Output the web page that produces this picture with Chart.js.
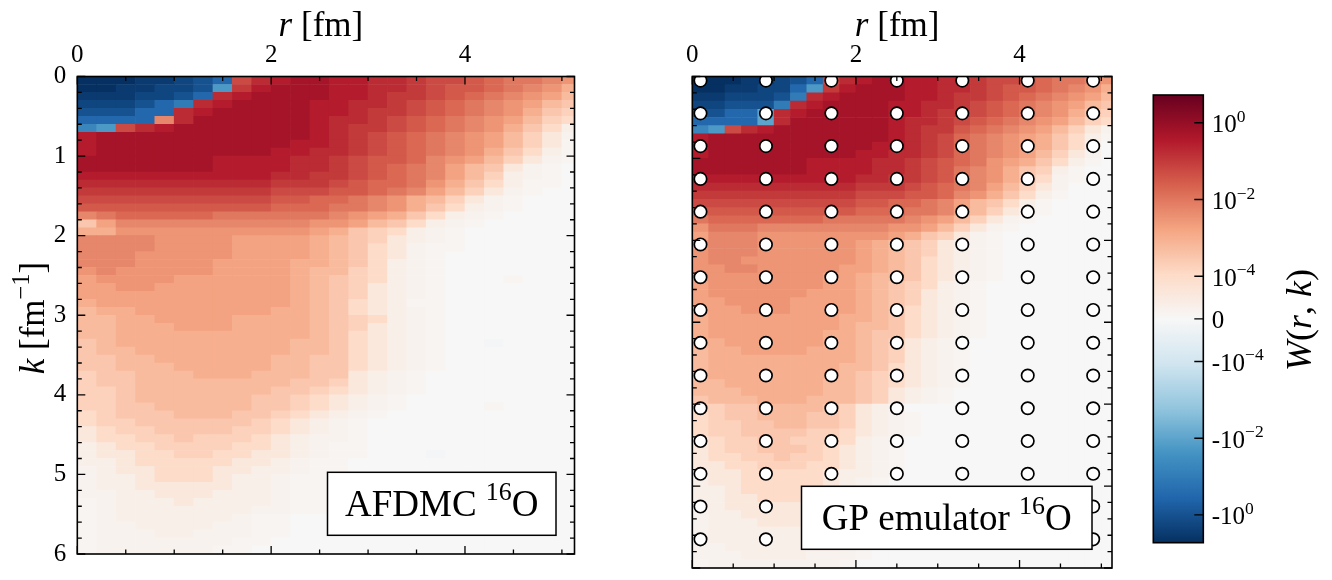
<!DOCTYPE html>
<html>
<head>
<meta charset="utf-8">
<script src="https://cdn.jsdelivr.net/npm/chart.js@4.4.0/dist/chart.umd.min.js"></script>
<style>
  html, body { margin: 0; padding: 0; background: #fff; }
  #wrap { position: relative; width: 1332px; height: 580px; }
  canvas { position: absolute; top: 0; }
</style>
</head>
<body>
<div id="wrap">
  <canvas id="afdmc-chart" width="600" height="580" style="left:0"></canvas>
  <canvas id="gp-chart" width="540" height="580" style="left:600px"></canvas>
  <canvas id="cbar-chart" width="192" height="580" style="left:1140px"></canvas>
</div>
<script>
// Grid of the Wigner distribution (cell centres)
const rCenters = [0.1, 0.3, 0.5, 0.7, 0.9, 1.1, 1.3, 1.5, 1.7, 1.9, 2.1, 2.3, 2.5,
  2.7, 2.9, 3.1, 3.3, 3.5, 3.7, 3.9, 4.1, 4.3, 4.5, 4.7, 4.9, 5.1]; // fm
const kCenters = [0.05, 0.15, 0.25, 0.35, 0.45, 0.55, 0.65, 0.75, 0.85, 0.95,
  1.05, 1.15, 1.25, 1.35, 1.45, 1.55, 1.65, 1.75, 1.85, 1.95,
  2.05, 2.15, 2.25, 2.35, 2.45, 2.55, 2.65, 2.75, 2.85, 2.95,
  3.05, 3.15, 3.25, 3.35, 3.45, 3.55, 3.65, 3.75, 3.85, 3.95,
  4.05, 4.15, 4.25, 4.35, 4.45, 4.55, 4.65, 4.75, 4.85, 4.95,
  5.05, 5.15, 5.25, 5.35, 5.45, 5.55, 5.65, 5.75, 5.85, 5.95]; // fm^-1

// GP training points
const trainR = [0.1, 0.9, 1.7, 2.5, 3.3, 4.1, 4.9];
const trainK = [0.05, 0.45, 0.85, 1.25, 1.65, 2.05, 2.45, 2.85, 3.25, 3.65, 4.05, 4.45, 4.85, 5.25, 5.65];

// axis ticks
const rMajor = [0, 2, 4];
const kMajor = [0, 1, 2, 3, 4, 5, 6];
const cbarTicks = [1, 1e-2, 1e-4, 0, -1e-4, -1e-2, -1];
const cbarLabels = [["10", "0"], ["10", "\u22122"], ["10", "\u22124"], ["0", ""],
  ["-10", "\u22124"], ["-10", "\u22122"], ["-10", "0"]];

// W(r,k): one string per k row, one letter per r column.
// lower case a..x = +10^(-5 + n/4) (a=1e-5, e=1e-4, i=1e-3, m=1e-2, q=0.1, u=1),
// upper case = same magnitude but negative, 0 = zero
const afdmcRows = [
  "XXXWWVUSprsttssrrqpponmmlk",
  "XXWWVVUNqstttssrrqpoonmlki",
  "WWWVVUSrsttttssrqqponmlkjh",
  "VVVUSQrsttttssrrqponmlkjhg",
  "UUUSSrstttttssrqqponmlkigf",
  "SSSSlrttttttsrrqponmlkjhfe",
  "PNprstttttttsrqqponmlkigec",
  "stttttttttttsrqponmlkjhfdb",
  "sttttttttttssrqponmlkjhfda",
  "stttttttttssrrqponmlkigeca",
  "tttttttssssrrqpoonlkjhfdba",
  "tttttttssssrrqponmljhgdba0",
  "ssssssssssrrqqponmljhfcba0",
  "rrrrrrrrrrqqqponnmkigecaa0",
  "qqqqqqqqqqpppoonmljhfdba00",
  "ppppppppppoonnmlkihfdba000",
  "oooooooooonnnmmlkigecba000",
  "lmnnnnnmmmmmmlkjigecba0000",
  "gjllllllllllkkjhgecba00000",
  "iikkkkkkkkkkjigfecba000000",
  "llllkkkkjjjjihgfdcba000000",
  "llllkkkkjjjjihgedbaa000000",
  "lllkkkkkjjjjihgedba0000000",
  "lllkkkkjjjjiihgecba0000000",
  "klkkkkkjjjjihhfecba0000000",
  "jkkkkjjjjjjihgfecba000a000",
  "jjkkjjjjjjjihgfdcba0000000",
  "jjjjjjjjjjjihgfdcba0000000",
  "ijjjjjjjjjjihgedcaa0000000",
  "hiijjjjjjjiihgedcba0000000",
  "hhiijjjjiiiihgfecba0000000",
  "hhiiijjjiiiihgfdcba0000000",
  "hhiiiiiiiiiihgedcba0000000",
  "ghiiiiiiiiihhgedcba00A0000",
  "ghhiiiiiiiihhgedcba0000000",
  "gghhiiiiiihhggedcba0000000",
  "gghhhiiiiihhggedcba0000000",
  "fgghhhiiihhhggdcba00000000",
  "fgghhhhhhhhggfdcba00000000",
  "ffghhhhhhhggfedcba00000000",
  "ffghhhhhhggfedcba000000000",
  "ffgghhhhhggfedcba0000a0000",
  "efggghhhggfedcba0000000000",
  "effggggggfedcba00000000000",
  "deffggggffedcba00000000000",
  "deeffgfffedcbba00000000000",
  "cdeeffffeedcbaa00000000000",
  "cddeeffeeddcbaa000A0000000",
  "ccdeeeeeddcbaa000000000000",
  "bcddeeeddccbaa000000000000",
  "bccdeeedccbaa0000000000000",
  "bccdddddccbaa0000000000000",
  "bbccdddcccbaa0000000000000",
  "abcccdccccbaa000000a000000",
  "abcccccccbbaa0000000000000",
  "abccccccbaa000000000000000",
  "abbccccbbaa000000000000000",
  "abbbccbbbaa000000000000000",
  "abbbbbbbaa0000000000000000",
  "abbbbbbaa00000000000000000"
];

const gpRows = [
  "XXXWWVUSprsttssrrqpponmmlk",
  "XXWWVVSNqstttssrrqpoonmlki",
  "WWVVVUQrsttttssrqqponmlkjh",
  "VVUUUQrsttttssrrqponmlkjhg",
  "UUSSMrstttttssrqqponmlkigf",
  "SSSSMrttttttsrrqponmlkjhfe",
  "PNprstttttttsrqqonmlkjhfdb",
  "stttttttttttsrqpnmlkjigeca",
  "sttttttttttssrqpnmlkjigec0",
  "stttttttttssrrqpnmlkjhfdb0",
  "tttttttssssrrqponmkjigeca0",
  "tttttttssssrrqpomlkigfca00",
  "ssssssssssrrqqpomlkigeba00",
  "rrrrrrrrrrqqqponmljhfdb000",
  "qqqqqqqqqqpppoonlkigeca000",
  "ppppppppppoonnmljhgeca0000",
  "oooooooooonnnmmljhfdba0000",
  "mnnnnnnnmmmmmlkjhfdba00000",
  "kmmmllllllllkkjhfdba000000",
  "jlllkkkkkkkkjigfdba0000000",
  "klllkkkkkkjihgfdcba0000000",
  "klllkkkkkkjihgfdcba0000000",
  "kllkkkkkkkjihgedcba0000000",
  "kkllkkkkkjjihgedcba0000000",
  "kkkkkkkkjjihhgedcba0000000",
  "jkkkkkkkjjihgfecba00000000",
  "jkkkkkkjjjihgfdcba00000000",
  "jjkkkkjjjjihgfdcba00000000",
  "jjjkkkjjjjihgedcba00000000",
  "ijjjjjjjjiihgedcba00000000",
  "ijjjjjjjjihhgedcba00000000",
  "ijjjjjjjiihggedcba00000000",
  "iijjjjjjiihgfdcba000000000",
  "hiijjjjiiihgfdcba000000000",
  "hiiiiiiiiihgfdcba000000000",
  "hiiiiiiiihhgedcba000000000",
  "hiiiiiiiihgfedcba000000000",
  "hhiiiiiihhgfedcba000000000",
  "hhhiiiiihhgfdcba0000000000",
  "ghhhiiihhhgfdcba0000000000",
  "ffgghhhhgfdcb0000000000000",
  "efgghhhggfdcba000000000000",
  "effgghhggfdcba000000000000",
  "effggggffedcba000000000000",
  "deffggfffecba0000000000000",
  "deffgggfedcba0000000000000",
  "deeffgffedcba0000000000000",
  "ddeefffeedcba0000000000000",
  "cddeeeeedccba0000000000000",
  "cddeeeeedcba00000000000000",
  "ccdeeeeedcba00000000000000",
  "ccddeeeddcba00000000000000",
  "bcdddddddcba00000000000000",
  "bccdddddccba00000000000000",
  "bcccdddcccba00000000000000",
  "bccccccccba000000000000000",
  "bccccccccba000000000000000",
  "bbcccccccba000000000000000",
  "bbbccccbbba000000000000000",
  "abbbbbbbba0000000000000000"
];

const serif = "'Liberation Serif', 'DejaVu Serif', serif";
Chart.defaults.font.family = serif;

// symmetric log colour scale (linthresh 1e-4, linscale 1, base 10)
const linThresh = 1e-4;
const linScale = 1 / (1 - 1 / 10);
const wMax = 5.3;
function symlog(w) {
  const a = Math.abs(w);
  const p = a <= linThresh ? linScale * a / linThresh : linScale + Math.log10(a / linThresh);
  return Math.sign(w) * p;
}
const posMax = symlog(wMax);

// RdBu_r
const rdbuR = ['#053061', '#2166ac', '#4393c3', '#92c5de', '#d1e5f0', '#f7f7f7',
  '#fddbc7', '#f4a582', '#d6604d', '#b2182b', '#67001f'];
function hexRgb(h) {
  return [1, 3, 5].map(i => parseInt(h.slice(i, i + 2), 16));
}
function cmap(t) {
  t = Math.min(1, Math.max(0, t));
  const s = t * (rdbuR.length - 1);
  const i = Math.min(Math.floor(s), rdbuR.length - 2);
  const f = s - i;
  const a = hexRgb(rdbuR[i]), b = hexRgb(rdbuR[i + 1]);
  const c = a.map((v, n) => Math.round(v + (b[n] - v) * f));
  return `rgb(${c[0]},${c[1]},${c[2]})`;
}

function levelValue(ch) {
  if (ch === '0') return 0;
  const lower = ch.toLowerCase();
  const v = Math.pow(10, -5 + (lower.charCodeAt(0) - 97) / 4);
  return ch === lower ? v : -v;
}

function cellData(rows) {
  const pts = [], colors = [];
  rows.forEach((row, j) => {
    [...row].forEach((ch, i) => {
      pts.push({ x: rCenters[i], y: [kCenters[j] - 0.05, kCenters[j] + 0.05] });
      colors.push(cmap(0.5 + 0.5 * symlog(levelValue(ch)) / posMax));
    });
  });
  return { pts, colors };
}

// text with italic / superscript pieces
function partFont(p, size) {
  return (p.it ? 'italic ' : '') + (p.sup ? size * 0.7 : size) + 'px ' + serif;
}
function richWidth(ctx, parts, size) {
  let w = 0;
  parts.forEach(p => { ctx.font = partFont(p, size); w += ctx.measureText(p.t).width; });
  return w;
}
function drawRich(ctx, parts, x, y, size, align) {
  const w = richWidth(ctx, parts, size);
  let cx = align === 'center' ? x - w / 2 : (align === 'right' ? x - w : x);
  ctx.textAlign = 'left';
  ctx.textBaseline = 'alphabetic';
  ctx.fillStyle = '#000';
  parts.forEach(p => {
    ctx.font = partFont(p, size);
    ctx.fillText(p.t, cx, p.sup ? y - size * 0.42 : y);
    cx += ctx.measureText(p.t).width;
  });
}

const rTitle = [{ t: 'r', it: true }, { t: ' [fm]' }];
const kTitle = [{ t: 'k', it: true }, { t: ' [fm' }, { t: '\u22121', sup: true }, { t: ']' }];

// frame, inward ticks, title, label box
function makeDeco(cfg) {
  return {
    id: 'panelDeco',
    afterDatasetsDraw(chart) {
      const { ctx, chartArea: a, scales: { x, y } } = chart;
      ctx.save();
      ctx.strokeStyle = '#000';
      ctx.lineWidth = 1.3;
      ctx.beginPath();
      for (let v = 0; v <= 5.01; v += 0.5) {
        const px = x.getPixelForValue(v);
        const len = rMajor.includes(v) ? 8 : 4.5;
        ctx.moveTo(px, a.top); ctx.lineTo(px, a.top + len);
        ctx.moveTo(px, a.bottom); ctx.lineTo(px, a.bottom - len);
      }
      for (let n = 0; n <= 30; n++) {
        const py = y.getPixelForValue(n / 5);
        const len = n % 5 === 0 ? 8 : 4.5;
        ctx.moveTo(a.left, py); ctx.lineTo(a.left + len, py);
        ctx.moveTo(a.right, py); ctx.lineTo(a.right - len, py);
      }
      ctx.stroke();

      // label box
      const size = 37;
      const tw = richWidth(ctx, cfg.label, size);
      const w = cfg.boxWidth;
      const bx = a.right - cfg.boxRight - w, by = a.bottom - 18.7 - 63;
      ctx.fillStyle = '#fff';
      ctx.fillRect(bx, by, w, 63);
      ctx.lineWidth = 1.5;
      ctx.strokeRect(bx, by, w, 63);
      drawRich(ctx, cfg.label, bx + w / 2, by + 43.5, size, 'center');

      ctx.lineWidth = 1.6;
      ctx.strokeRect(a.left, a.top, a.right - a.left, a.bottom - a.top);

      drawRich(ctx, rTitle, (a.left + a.right) / 2 - 5, 36, 35, 'center');
      if (cfg.kTitle) {
        ctx.save();
        ctx.translate(44, 318);
        ctx.rotate(-Math.PI / 2);
        drawRich(ctx, kTitle, 0, 0, 35, 'center');
        ctx.restore();
      }
      ctx.restore();
    }
  };
}

function panelChart(id, rows, cfg) {
  const { pts, colors } = cellData(rows);
  const datasets = [{
    type: 'bar', data: pts, backgroundColor: colors, borderWidth: 0,
    barPercentage: 1, categoryPercentage: 1, grouped: false, clip: 0, order: 2
  }];
  if (cfg.points) {
    datasets.push({
      type: 'scatter', data: cfg.points, pointRadius: 6.2,
      pointBackgroundColor: '#ffffff', pointBorderColor: '#000000', pointBorderWidth: 1.7, order: 1
    });
  }
  return new Chart(document.getElementById(id), {
    type: 'bar',
    data: { datasets },
    options: {
      responsive: false,
      animation: false,
      layout: { padding: cfg.padding },
      plugins: { legend: { display: false }, tooltip: { enabled: false } },
      scales: {
        x: {
          type: 'linear', position: 'top', min: 0, max: 5.13, offset: false,
          grid: { display: false, drawTicks: false }, border: { display: false },
          afterBuildTicks: s => { s.ticks = rMajor.map(v => ({ value: v })); },
          afterFit: s => { s.height = 76.5; },
          ticks: { color: '#000', font: { size: 25 }, padding: 6.5, maxRotation: 0 }
        },
        y: {
          type: 'linear', reverse: true, min: 0, max: 6, display: cfg.yLabels,
          grid: { display: false, drawTicks: false }, border: { display: false },
          afterBuildTicks: s => { s.ticks = kMajor.map(v => ({ value: v })); },
          afterFit: s => { s.width = 77.3; },
          ticks: { color: '#000', font: { size: 25 }, padding: 11 }
        }
      }
    },
    plugins: [makeDeco(cfg)]
  });
}

const trainPoints = [];
trainR.forEach(r => trainK.forEach(k => trainPoints.push({ x: r, y: k })));

panelChart('afdmc-chart', afdmcRows, {
  yLabels: true, kTitle: true, boxRight: 18.5, boxWidth: 228.5,
  padding: { left: 0, right: 25.5, top: 0, bottom: 12 },
  label: [{ t: 'AFDMC ' }, { t: '16', sup: true }, { t: 'O' }]
});

panelChart('gp-chart', gpRows, {
  yLabels: false, kTitle: false, boxRight: 20, boxWidth: 290.5, points: trainPoints,
  padding: { left: 15, right: 28, top: 0, bottom: 12 },
  label: [{ t: 'GP emulator ' }, { t: '16', sup: true }, { t: 'O' }]
});

// colour bar
const cbarDeco = {
  id: 'cbarDeco',
  afterDatasetsDraw(chart) {
    const { ctx, chartArea: a, scales: { y } } = chart;
    ctx.save();
    ctx.strokeStyle = '#000';
    ctx.lineWidth = 1.4;
    ctx.beginPath();
    cbarTicks.forEach(v => {
      const py = y.getPixelForValue(symlog(v));
      ctx.moveTo(a.right, py); ctx.lineTo(a.right - 9, py);
    });
    ctx.stroke();
    ctx.lineWidth = 1.6;
    ctx.strokeRect(a.left, a.top, a.right - a.left, a.bottom - a.top);
    cbarTicks.forEach((v, i) => {
      const py = y.getPixelForValue(symlog(v));
      const [base, sup] = cbarLabels[i];
      const parts = [{ t: base }];
      if (sup) parts.push({ t: sup, sup: true });
      drawRich(ctx, parts, a.right + 8.4, py + 9.5, 25, 'left');
    });
    ctx.translate(1311 - 1140, 320);
    ctx.rotate(-Math.PI / 2);
    drawRich(ctx, [{ t: 'W', it: true }, { t: '(' }, { t: 'r', it: true }, { t: ', ' },
      { t: 'k', it: true }, { t: ')' }], 0, 0, 36, 'center');
    ctx.restore();
  }
};

new Chart(document.getElementById('cbar-chart'), {
  type: 'bar',
  data: {
    labels: [''],
    datasets: [{
      data: [[-posMax, posMax]],
      borderWidth: 0, barPercentage: 1, categoryPercentage: 1,
      backgroundColor: c => {
        const a = c.chart.chartArea;
        if (!a) return 'transparent';
        const g = c.chart.ctx.createLinearGradient(0, a.bottom, 0, a.top);
        rdbuR.forEach((col, i) => g.addColorStop(i / (rdbuR.length - 1), col));
        return g;
      }
    }]
  },
  options: {
    responsive: false,
    animation: false,
    layout: { padding: { left: 13.3, right: 128.7, top: 95, bottom: 37.3 } },
    plugins: { legend: { display: false }, tooltip: { enabled: false } },
    scales: {
      x: { display: false },
      y: { display: false, min: -posMax, max: posMax }
    }
  },
  plugins: [cbarDeco]
});
</script>
</body>
</html>
